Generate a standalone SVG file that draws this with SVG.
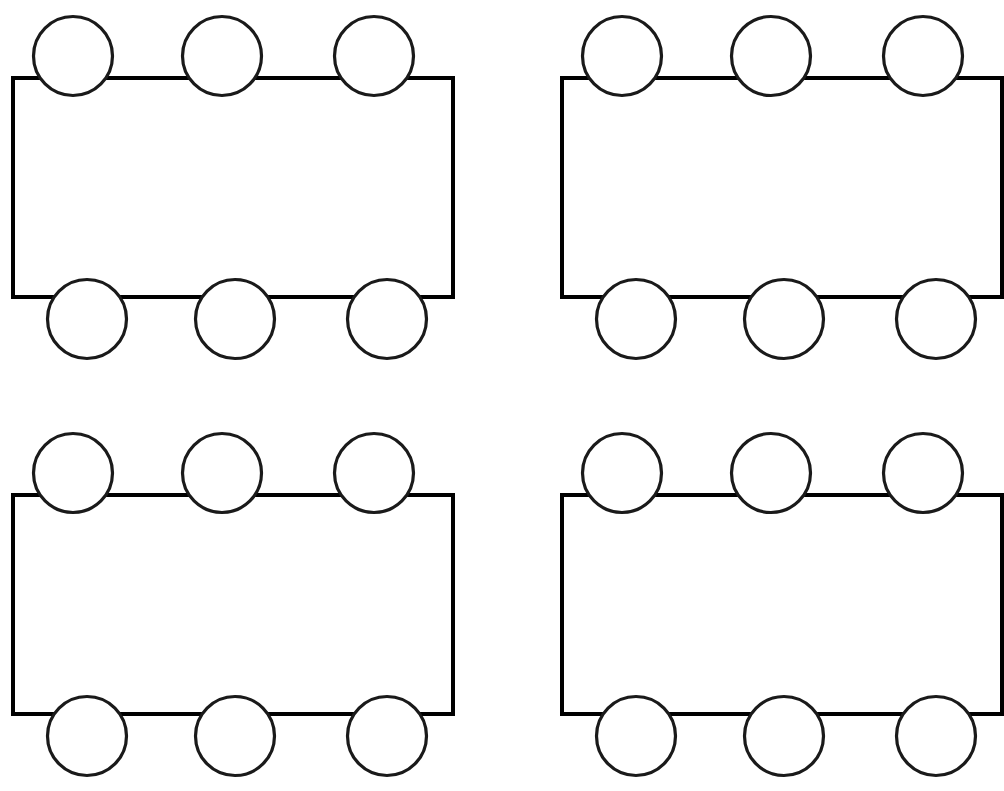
<svg xmlns="http://www.w3.org/2000/svg" width="1004" height="791" viewBox="0 0 1004 791">
<style>
.body{fill:#fff;stroke:#000;stroke-width:4}
.pin{fill:#fff;stroke:#1a1a1a;stroke-width:3.2}
</style>
<defs>
<g id="chipL">
<rect class="body" x="13" y="0" width="440" height="219"/>
<circle class="pin" cx="73" cy="-22" r="39.5"/>
<circle class="pin" cx="222" cy="-22" r="39.5"/>
<circle class="pin" cx="374" cy="-22" r="39.5"/>
<circle class="pin" cx="87" cy="241" r="39.5"/>
<circle class="pin" cx="235" cy="241" r="39.5"/>
<circle class="pin" cx="387" cy="241" r="39.5"/>
</g>
</defs>
<rect width="1004" height="791" fill="#fff"/>
<g id="chip-top-left" transform="translate(0,78)"><use href="#chipL"/></g>
<g id="chip-top-right" transform="translate(549,78)"><use href="#chipL"/></g>
<g id="chip-bottom-left" transform="translate(0,495)"><use href="#chipL"/></g>
<g id="chip-bottom-right" transform="translate(549,495)"><use href="#chipL"/></g>
<g id="connectors"/>
</svg>
